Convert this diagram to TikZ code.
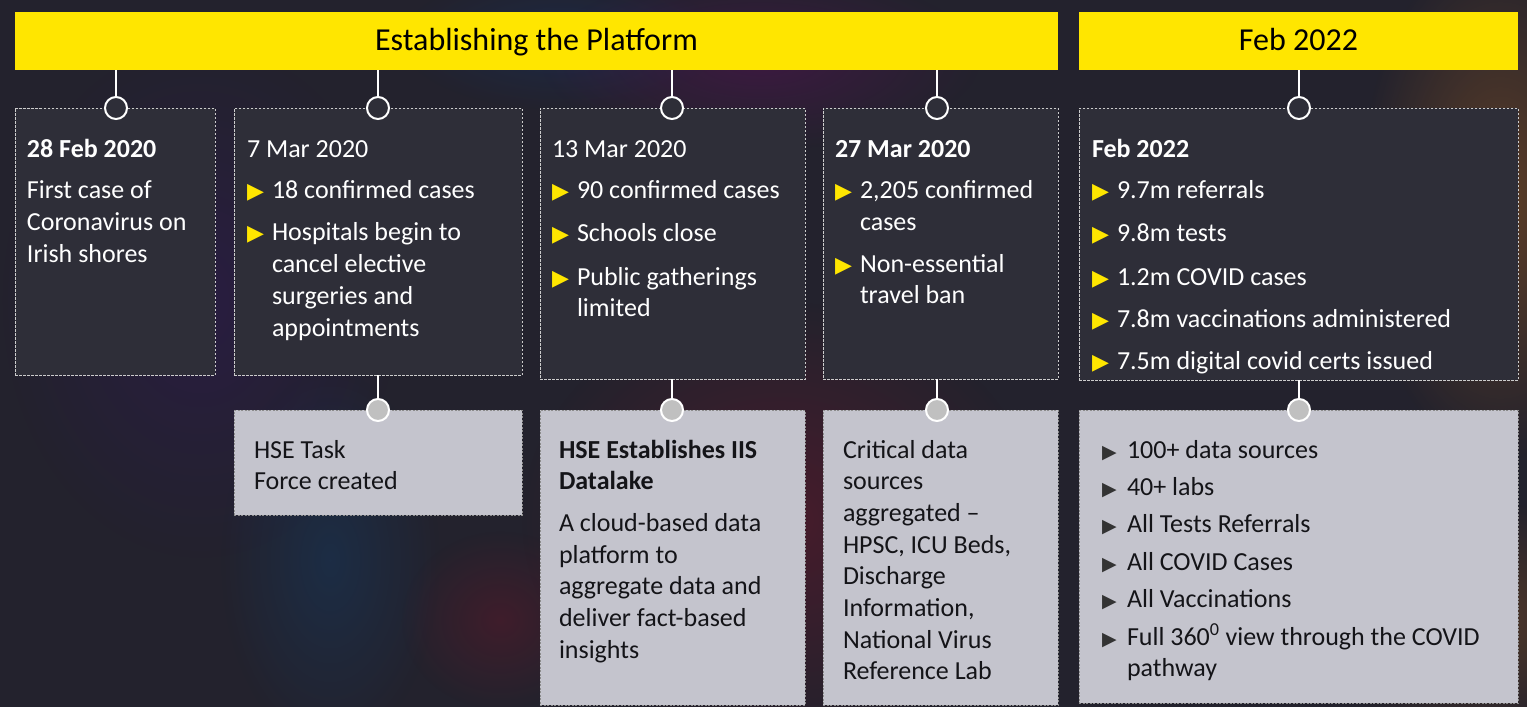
\documentclass[tikz,border=0pt]{standalone}
\usepackage{fontspec}
\setmainfont{Carlito}
\newfontfamily\dejavu{DejaVu Sans}
\usetikzlibrary{fadings}
\tikzfading[name=glow, inner color=transparent!0, outer color=transparent!100]
\definecolor{eyy}{HTML}{FFE600}
\definecolor{eydark}{HTML}{2E2E38}
\definecolor{bgdark}{HTML}{23222D}
\definecolor{lgray}{HTML}{C4C4CD}
\definecolor{cgray}{HTML}{C0C0C0}
\definecolor{ktext}{HTML}{141418}
\newcommand\ytri{\textcolor{eyy}{\dejavu\fontsize{22}{22}\selectfont\char"25B6}}
\newcommand\ktri{\textcolor{black!80}{\dejavu\fontsize{19}{19}\selectfont\char"25B6}}
\newcommand\yb{\makebox[25pt][l]{\ytri}}
\newcommand\kb{\makebox[25pt][l]{\ktri}}
\newcommand\ind{\hspace*{25pt}}
\begin{document}
\begin{tikzpicture}[x=1pt,y=-1pt,
  bar/.style={fill=eyy, draw=none, inner sep=0pt, outer sep=0pt, anchor=north west, minimum height=58pt, font=\fontsize{32}{38}\selectfont, text=black, text depth=3pt},
  topbox/.style={fill=eydark, draw=white!80!black, line width=0.8pt, dash pattern=on 2.5pt off 1.5pt, inner sep=0pt, outer sep=0pt, anchor=north west},
  lowbox/.style={fill=lgray, draw=black!45, line width=0.8pt, dash pattern=on 2pt off 1.5pt, inner sep=0pt, outer sep=0pt, anchor=north west},
  topdot/.style={circle, fill=eydark, draw=white, line width=2pt, minimum size=22pt, inner sep=0pt, outer sep=0pt},
  lowdot/.style={circle, fill=cgray, draw=white, line width=2pt, minimum size=22pt, inner sep=0pt, outer sep=0pt},
  link/.style={draw=white, line width=2pt},
  glowblob/.style={path fading=glow, draw=none},
  wtxt/.style={anchor=base west, inner sep=0pt, outer sep=0pt, text=white, font=\fontsize{26}{31.7}\selectfont},
  ktxt/.style={anchor=base west, inner sep=0pt, outer sep=0pt, text=ktext, font=\fontsize{26}{31.7}\selectfont}]
\useasboundingbox (0,0) rectangle (1527,707);
% background
\fill[bgdark] (0,0) rectangle (1527,707);
\fill[glowblob, teal!70!blue, opacity=0.2] (330,560) ellipse (110 and 190);
\fill[glowblob, teal!60!blue, opacity=0.18] (560,40) ellipse (160 and 70);
\fill[glowblob, purple!70!blue, opacity=0.25] (760,60) ellipse (220 and 90);
\fill[glowblob, purple!60!red, opacity=0.2] (780,520) ellipse (260 and 220);
\fill[glowblob, red!50!purple, opacity=0.15] (500,620) ellipse (100 and 90);
\fill[glowblob, orange!60!brown, opacity=0.3] (1500,200) ellipse (140 and 260);
\fill[glowblob, orange!50!brown, opacity=0.25] (1480,620) ellipse (160 and 120);
\fill[glowblob, violet!60!blue, opacity=0.15] (200,300) ellipse (200 and 260);

% header bars
\node[bar, minimum width=1043pt] (bar1) at (15,12) {Establishing the Platform};
\node[bar, minimum width=439pt] (bar2) at (1079,12) {Feb 2022};

% top boxes
\node[topbox, minimum width=200pt, minimum height=267pt] (b1) at (15,108) {};
\node[topbox, minimum width=288pt, minimum height=267pt] (b2) at (234,108) {};
\node[topbox, minimum width=265pt, minimum height=271pt] (b3) at (540,108) {};
\node[topbox, minimum width=235pt, minimum height=271pt] (b4) at (823,108) {};
\node[topbox, minimum width=439pt, minimum height=272pt] (b5) at (1079,108) {};

% lower boxes
\node[lowbox, minimum width=288pt, minimum height=105pt] (l2) at (234,410) {};
\node[lowbox, minimum width=265pt, minimum height=295pt] (l3) at (540,410) {};
\node[lowbox, minimum width=235pt, minimum height=295pt] (l4) at (823,410) {};
\node[lowbox, minimum width=439pt, minimum height=293pt] (l5) at (1079,410) {};

% top dots
\node[topdot] (d1) at (116,108) {};
\node[topdot] (d2) at (378,108) {};
\node[topdot] (d3) at (672,108) {};
\node[topdot] (d4) at (937,108) {};
\node[topdot] (d5) at (1299,108) {};
% lower dots
\node[lowdot] (e2) at (378,410) {};
\node[lowdot] (e3) at (672,410) {};
\node[lowdot] (e4) at (937,410) {};
\node[lowdot] (e5) at (1299,410) {};

% connectors
\draw[link] (d1 |- bar1.south) -- (d1.north);
\draw[link] (d2 |- bar1.south) -- (d2.north);
\draw[link] (d3 |- bar1.south) -- (d3.north);
\draw[link] (d4 |- bar1.south) -- (d4.north);
\draw[link] (d5 |- bar2.south) -- (d5.north);
\draw[link] (e2 |- b2.south) -- (e2.north);
\draw[link] (e3 |- b3.south) -- (e3.north);
\draw[link] (e4 |- b4.south) -- (e4.north);
\draw[link] (e5 |- b5.south) -- (e5.north);

% top texts
\node[wtxt] (t1) at (27,157) {\parbox[t]{185pt}{\raggedright
\textbf{28 Feb 2020}\\[10pt]
First case of\\
Coronavirus on\\
Irish shores}};
\node[wtxt] (t2) at (247,157) {\parbox[t]{270pt}{\raggedright
7 Mar 2020\\[10pt]
\yb 18 confirmed cases\\[10.5pt]
\yb Hospitals begin to\\
\ind cancel elective\\
\ind surgeries and\\
\ind appointments}};
\node[wtxt] (t3) at (552,157) {\parbox[t]{250pt}{\raggedright
13 Mar 2020\\[10pt]
\yb 90 confirmed cases\\[11pt]
\yb Schools close\\[12pt]
\yb Public gatherings\\
\ind limited}};
\node[wtxt] (t4) at (835,157) {\parbox[t]{220pt}{\raggedright
\textbf{27 Mar 2020}\\[10pt]
\yb 2,205 confirmed\\
\ind cases\\[10pt]
\yb Non-essential\\
\ind travel ban}};
\node[wtxt] (t5) at (1092,157) {\parbox[t]{420pt}{\raggedright
\textbf{Feb 2022}\\[10pt]
\yb 9.7m referrals\\[11pt]
\yb 9.8m tests\\[12pt]
\yb 1.2m COVID cases\\[11pt]
\yb 7.8m vaccinations administered\\[10pt]
\yb 7.5m digital covid certs issued}};

% lower texts
\node[ktxt] (u2) at (254,458) {\parbox[t]{260pt}{\raggedright
HSE Task\\
Force created}};
\node[ktxt] (u3) at (559,458) {\parbox[t]{240pt}{\raggedright
\textbf{HSE Establishes IIS}\\
\textbf{Datalake}\\[10pt]
A cloud-based data\\
platform to\\
aggregate data and\\
deliver fact-based\\
insights}};
\node[ktxt] (u4) at (843,458) {\parbox[t]{210pt}{\raggedright
Critical data\\
sources\\
aggregated --\\
HPSC, ICU Beds,\\
Discharge\\
Information,\\
National Virus\\
Reference Lab}};
\node[ktxt] (u5) at (1102,458) {\parbox[t]{410pt}{\raggedright
\kb 100+ data sources\\[5.7pt]
\kb 40+ labs\\[5.7pt]
\kb All Tests Referrals\\[5.7pt]
\kb All COVID Cases\\[5.7pt]
\kb All Vaccinations\\[5.7pt]
\kb Full 360\textsuperscript{0} view through the COVID\\
\ind pathway}};
\end{tikzpicture}
\end{document}
